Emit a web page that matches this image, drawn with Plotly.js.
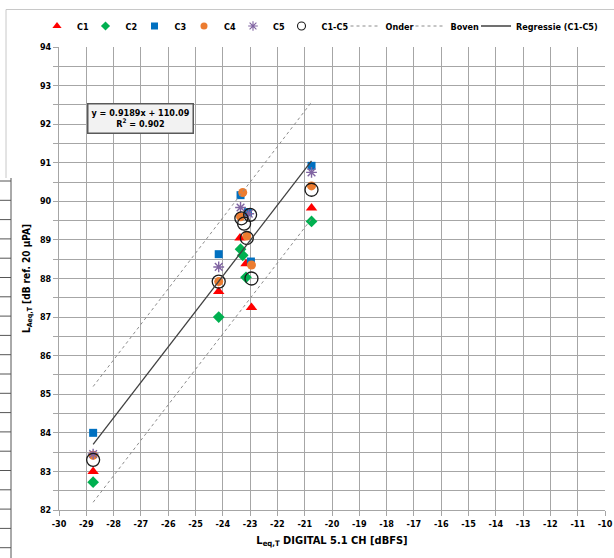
<!DOCTYPE html>
<html>
<head>
<meta charset="utf-8">
<script src="https://cdn.plot.ly/plotly-3.0.1.min.js"></script>
<style>
html,body{margin:0;padding:0;background:#fff;}
#chart{width:614px;height:558px;}
</style>
</head>
<body>
<div id="chart"></div>
<script>
// ---- data ----
const c1X = [-28.75, -24.15, -23.37, -23.15, -22.95, -20.75];
const c1Y = [83.0, 87.66, 89.05, 88.38, 87.25, 89.83];

const c2X = [-28.75, -24.15, -23.35, -23.27, -23.15, -20.75];
const c2Y = [82.72, 87.0, 88.76, 88.6, 88.03, 89.48];

const c3X = [-28.75, -24.15, -23.35, -23.08, -22.97, -20.75];
const c3Y = [84.0, 88.63, 90.16, 89.72, 88.44, 90.92];

const c4X = [-28.75, -24.15, -23.27, -23.35, -23.12, -22.95, -20.75];
const c4Y = [83.42, 87.92, 90.23, 89.6, 89.1, 88.35, 90.4];

const c5X = [-28.75, -24.15, -23.35, -23.05, -20.75];
const c5Y = [83.45, 88.3, 89.84, 89.68, 90.75];

const avgX = [-28.75, -24.15, -23.32, -23.22, -23.0, -23.12, -22.95, -20.75];
const avgY = [83.3, 87.92, 89.56, 89.42, 89.65, 89.05, 88.0, 90.3];

const lineX = [-28.75, -20.75];
const onderY = [82.2, 89.55];
const bovenY = [85.2, 92.57];
const regY = [83.7, 91.05];

const seriesNames = ['C1', 'C2', 'C3', 'C4', 'C5', 'C1-C5', 'Onder', 'Boven', 'Regressie (C1-C5)'];
const xTickVals = [-30,-29,-28,-27,-26,-25,-24,-23,-22,-21,-20,-19,-18,-17,-16,-15,-14,-13,-12,-11,-10];
const yTickVals = [82,83,84,85,86,87,88,89,90,91,92,93,94];
const eqText = 'y = 0.9189x + 110.09<br>R<sup>2</sup> = 0.902';
const xTitle = 'L<sub>eq,T</sub> DIGITAL 5.1 CH [dBFS]';
const yTitle = 'L<sub>Aeq,T</sub> [dB ref. 20 µPA]';

// ---- layout helpers (pixel -> paper) ----
const ML = 59, MR = 9, MT = 47, MB = 48, W = 614, H = 558;
const PW = W - ML - MR, PH = H - MT - MB;
const px = p => (p - ML) / PW;
const py = p => (H - MB - p) / PH;

const FONT = 'Liberation Sans Narrow, DejaVu Sans Condensed, Arial Narrow, sans-serif';
const legFont = {family: FONT, size: 9, color: '#000', weight: 'bold'};

const markerStyles = [
  {symbol: 'triangle-up', size: 10, color: '#ff0000'},
  {symbol: 'diamond', size: 9, color: '#00b050'},
  {symbol: 'square', size: 8, color: '#0070c0'},
  {symbol: 'circle', size: 9, color: '#ec7c30'},
  {symbol: 'asterisk-open', size: 9, color: '#8064a2', line: {color: '#8064a2', width: 1.4}},
  {symbol: 'circle-open', size: 13, color: '#1a1a1a', line: {color: '#1a1a1a', width: 1.3}}
];
const legendMarkerSizes = [8, 7, 7, 7, 8, 8];
const lineStyles = [
  {color: '#8c8c8c', width: 1, dash: 'dot'},
  {color: '#8c8c8c', width: 1, dash: 'dot'},
  {color: '#404040', width: 1.3}
];

const dataX = [c1X, c2X, c3X, c4X, c5X, avgX];
const dataY = [c1Y, c2Y, c3Y, c4Y, c5Y, avgY];
const lineYs = [onderY, bovenY, regY];
const legendKeys = ['legend','legend2','legend3','legend4','legend5','legend6','legend7','legend8','legend9'];

const traces = [];
// data markers (legend handled by small-symbol entries below)
dataX.forEach((xs, i) => {
  traces.push({x: xs, y: dataY[i], name: seriesNames[i], mode: 'markers', type: 'scatter',
    showlegend: false, marker: markerStyles[i]});
});
lineYs.forEach((ys, i) => {
  traces.push({x: lineX, y: ys, name: seriesNames[6 + i], mode: 'lines', type: 'scatter',
    legend: legendKeys[6 + i], line: lineStyles[i]});
});
// legend-only entries for the marker series (smaller symbols, like the reference)
markerStyles.forEach((m, i) => {
  traces.push({x: [null], y: [null], name: seriesNames[i], mode: 'markers', type: 'scatter',
    legend: legendKeys[i], marker: Object.assign({}, m, {size: legendMarkerSizes[i],
      line: m.line ? {color: m.line.color, width: 1.1} : undefined})});
});

const legLefts = [37, 85.5, 134.5, 184, 233, 281.5, 345.5, 410.5, 476];

// left-edge table fragment visible in the reference crop
const tableShapes = [];
tableShapes.push({type: 'line', xref: 'paper', yref: 'paper', x0: px(11), x1: px(11), y0: py(178), y1: py(560), line: {color: '#555555', width: 1}});
for (let yy = 181; yy < 558; yy += 19.3) {
  tableShapes.push({type: 'line', xref: 'paper', yref: 'paper', x0: px(0), x1: px(11), y0: py(yy), y1: py(yy), line: {color: '#555555', width: 1}});
}

const layout = {
  width: W, height: H,
  margin: {l: ML, r: MR, t: MT, b: MB, pad: 0},
  paper_bgcolor: '#ffffff', plot_bgcolor: '#ffffff',
  font: {family: FONT, size: 9, color: '#000'},
  showlegend: true,
  xaxis: {
    range: [-30, -10], tickvals: xTickVals, ticktext: xTickVals.map(String),
    showgrid: true, gridcolor: '#a6a6a6', gridwidth: 1,
    showline: true, linecolor: '#a6a6a6', linewidth: 1,
    ticks: 'outside', ticklen: 5, tickcolor: '#a6a6a6',
    tickfont: {family: FONT, size: 9, color: '#000', weight: 'bold'},
    zeroline: false, automargin: false,
    title: {text: xTitle, font: {family: FONT, size: 11, color: '#000', weight: 'bold'}, standoff: 8}
  },
  yaxis: {
    range: [82, 94], tickvals: yTickVals, ticktext: yTickVals.map(String),
    showgrid: true, gridcolor: '#a6a6a6', gridwidth: 1,
    showline: true, linecolor: '#a6a6a6', linewidth: 1,
    ticks: 'outside', ticklen: 5, tickcolor: '#a6a6a6',
    tickfont: {family: FONT, size: 9, color: '#000', weight: 'bold'},
    minor: {dtick: 0.5, showgrid: true, gridcolor: '#a6a6a6', gridwidth: 1, ticks: 'outside', ticklen: 5, tickcolor: '#a6a6a6'},
    zeroline: false, automargin: false,
    title: {text: yTitle, font: {family: FONT, size: 10, color: '#000', weight: 'bold'}, standoff: 7}
  },
  annotations: [{
    x: -27.01, y: 92.15, xref: 'x', yref: 'y', text: eqText, showarrow: false,
    font: {family: FONT, size: 9, color: '#000', weight: 'bold'},
    bgcolor: '#f2f2f2', bordercolor: '#595959', borderwidth: 1.5, borderpad: 3,
    align: 'center', xanchor: 'center', yanchor: 'middle'
  }],
  shapes: [
    {type: 'line', xref: 'paper', yref: 'paper', x0: px(6), x1: px(616), y0: py(9.5), y1: py(9.5), line: {color: '#c8c8c8', width: 1}},
    {type: 'line', xref: 'paper', yref: 'paper', x0: px(6), x1: px(6), y0: py(9.5), y1: py(178), line: {color: '#c8c8c8', width: 1}}
  ].concat(tableShapes)
};

legendKeys.forEach((k, i) => {
  layout[k] = {
    x: px(legLefts[i]), xanchor: 'left', y: py(26), yanchor: 'middle',
    orientation: 'h', bgcolor: 'rgba(0,0,0,0)', borderwidth: 0,
    font: legFont, itemwidth: 30
  };
});

Plotly.newPlot('chart', traces, layout, {displayModeBar: false, staticPlot: true});
</script>
</body>
</html>
